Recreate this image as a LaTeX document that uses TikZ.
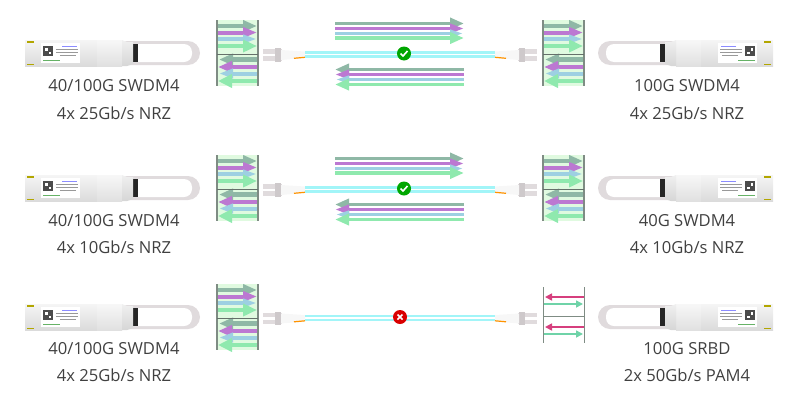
\documentclass[tikz,border=0pt]{standalone}
\usepackage{fontspec}
\setmainfont{Open Sans}
\usetikzlibrary{arrows.meta}
\definecolor{sigGray}{HTML}{8FB8A6}
\definecolor{sigPurple}{HTML}{BC78D2}
\definecolor{sigBlue}{HTML}{9DD0E2}
\definecolor{sigGreen}{HTML}{8FE9AE}
\definecolor{sigPink}{HTML}{D63F7E}
\definecolor{sigMint}{HTML}{6FD3A8}
\definecolor{muxBack}{HTML}{E0FAE0}
\definecolor{muxBar}{HTML}{7F8C84}
\definecolor{fiberCyan}{HTML}{A2F5F8}
\definecolor{shellGray}{HTML}{E0DBDD}
\tikzset{
  caption/.style={font=\fontsize{16.6}{19}\selectfont, text=black!75, inner sep=0pt},
  sig/.style n args={3}{draw=#1, line width=#2, -{Triangle[length=14pt,width=#3]}},
  pics/muxfull/.style={code={
    \fill [muxBack] (217,-33) rectangle (258,33);
    \draw [sig={sigGray}{4.5pt}{11pt}] (218,-27) -- (257,-27);
    \draw [sig={sigPurple}{4pt}{10pt}] (218,-20.5) -- (257,-20.5);
    \draw [sig={sigBlue}{4pt}{8pt}] (218,-14) -- (257,-14);
    \draw [sig={sigGreen}{4.5pt}{12pt}] (218,-7) -- (257,-7);
    \draw [sig={sigGray}{4.5pt}{11pt}] (257,6.5) -- (219,6.5);
    \draw [sig={sigPurple}{4pt}{11pt}] (257,14) -- (218,14);
    \draw [sig={sigBlue}{4pt}{9pt}] (257,20.5) -- (219,20.5);
    \draw [sig={sigGreen}{4.5pt}{13pt}] (257,28) -- (218,28);
    \draw [muxBar, line width=1.2pt] (217,-33) -- (217,33);
    \draw [muxBar, line width=1.2pt] (258,-33) -- (258,33);
    \draw [muxBar!80!black, line width=0.9pt] (217,1) -- (258,1);
  }},
  pics/muxsmall/.style={code={
    \draw [draw=sigPink, line width=1.6pt, -{Triangle[length=7pt,width=7pt]}] (584,-20) -- (545,-20);
    \draw [draw=sigMint, line width=1.6pt, -{Triangle[length=7pt,width=7pt]}] (544,-13) -- (583,-13);
    \draw [draw=sigPink, line width=1.6pt, -{Triangle[length=7pt,width=7pt]}] (584,10) -- (545,10);
    \draw [draw=sigMint, line width=1.6pt, -{Triangle[length=7pt,width=7pt]}] (544,17) -- (583,17);
    \draw [muxBar, line width=1pt] (543,-30) -- (543,26);
    \draw [muxBar, line width=1pt] (584,-30) -- (584,26);
    \draw [muxBar, line width=0.9pt] (543,-1) -- (584,-1);
  }},
  pics/beams/.style={code={
    \draw [sig={sigGray}{3.5pt}{11pt}] (335,-29.5) -- (464,-29.5);
    \draw [sig={sigPurple}{3.5pt}{9pt}] (335,-24.5) -- (464,-24.5);
    \draw [sig={sigBlue}{3.5pt}{7pt}] (335,-19.5) -- (464,-19.5);
    \draw [sig={sigGreen}{3.5pt}{11pt}] (335,-15) -- (464,-15);
    \draw [sig={sigGray}{3.5pt}{11pt}] (464,16.5) -- (335,16.5);
    \draw [sig={sigPurple}{3.5pt}{9pt}] (464,21.5) -- (335,21.5);
    \draw [sig={sigBlue}{3.5pt}{7pt}] (464,26.5) -- (335,26.5);
    \draw [sig={sigGreen}{3.5pt}{11pt}] (464,31.5) -- (335,31.5);
  }},
  pics/fiber/.style={code={
    \fill [shellGray] (263,-5.5) rectangle (282,-1);
    \fill [shellGray] (263,1.5) rectangle (282,6);
    \fill [shellGray!92!black] (275,-6.5) rectangle (281,7);
    \fill [black!3] (281,-4.5) -- (305,-3) -- (305,3.5) -- (281,5.5) -- cycle;
    \draw [draw=orange!85!yellow, line width=1.2pt] (294,3.8) -- (305,2.8);
    \fill [shellGray] (537,-5.5) rectangle (518,-1);
    \fill [shellGray] (537,1.5) rectangle (518,6);
    \fill [shellGray!92!black] (525,-6.5) rectangle (519,7);
    \fill [black!3] (519,-4.5) -- (495,-3) -- (495,3.5) -- (519,5.5) -- cycle;
    \draw [draw=orange!85!yellow, line width=1.2pt] (506,3.8) -- (495,2.8);
    \draw [draw=fiberCyan, line width=2.5pt] (305,-2) -- (495,-2);
    \draw [draw=fiberCyan, line width=2.5pt] (305,1.8) -- (495,1.8);
  }},
  pics/module/.style={code={
    \fill [shellGray, rounded corners=12pt] (115,-12) rectangle (200,12);
    \fill [white, rounded corners=8pt] (125,-9) rectangle (192,9);
    \fill [black!85] (133,-9) rectangle (138,9);
    \shade [top color=black!4, bottom color=black!14] (25,-13) rectangle (97,13);
    \shade [top color=black!3, bottom color=black!12] (97,-13) rectangle (122,13);
    \shade [top color=black!6, bottom color=black!16] (122,-13) -- (127,-11) -- (133,-11) -- (133,11) -- (127,13) -- (122,13) -- cycle;
    \fill [white] (41,-10) rectangle (80,10);
    \fill [black!70] (43,-7) rectangle (53,3);
    \fill [white] (45,-5) rectangle (47.5,-2.5);
    \fill [white] (48.5,-1.5) rectangle (51,1);
    \draw [blue!45, line width=0.9pt] (62,-7) -- (77,-7);
    \draw [black!40, line width=0.8pt] (56,-3.5) -- (78,-3.5);
    \draw [black!40, line width=0.8pt] (56,-0.5) -- (78,-0.5);
    \draw [black!40, line width=0.8pt] (60,2.5) -- (76,2.5);
    \draw [green!50!black!60, line width=0.8pt] (43,7) -- (60,7);
    \fill [orange!70!green] (27,-12) rectangle (34,-10.5);
    \fill [orange!70!green] (27,10.5) rectangle (34,12);
  }}
}
\begin{document}
\begin{tikzpicture}[x=1pt, y=-1pt]
\useasboundingbox (0,0) rectangle (800,402);
\pic at (0,53) {muxfull};
\pic at (326,53) {muxfull};
\pic at (0,53) {beams};
\pic at (0,54.5) {fiber};
\pic at (0,53) {module};
\pic [xscale=-1] at (798,53) {module};
\node [circle, fill=green!65!black, minimum size=14pt, inner sep=0pt] (okTop) at (404,53.5) {};
\draw [white, line width=1.6pt] (400.5,53.5) -- (403,56) -- (407.5,51);
\node [caption] (leftTopA) at (114,86) {40/100G SWDM4};
\node [caption] (leftTopB) at (114,113) {4x 25Gb/s NRZ};
\node [caption] (rightTopA) at (687,86) {100G SWDM4};
\node [caption] (rightTopB) at (687,113) {4x 25Gb/s NRZ};
\pic at (0,188) {muxfull};
\pic at (326,188) {muxfull};
\pic at (0,188) {beams};
\pic at (0,189.5) {fiber};
\pic at (0,188) {module};
\pic [xscale=-1] at (798,188) {module};
\node [circle, fill=green!65!black, minimum size=14pt, inner sep=0pt] (okMid) at (404,188.5) {};
\draw [white, line width=1.6pt] (400.5,188.5) -- (403,191) -- (407.5,186);
\node [caption] (leftMidA) at (114,221) {40/100G SWDM4};
\node [caption] (leftMidB) at (114,247) {4x 10Gb/s NRZ};
\node [caption] (rightMidA) at (687,221) {40G SWDM4};
\node [caption] (rightMidB) at (687,247) {4x 10Gb/s NRZ};
\pic at (0,317) {muxfull};
\pic at (0,317) {muxsmall};
\pic at (0,318) {fiber};
\pic at (0,317) {module};
\pic [xscale=-1] at (798,317) {module};
\node [circle, fill=red!85!black, minimum size=14pt, inner sep=0pt] (badBot) at (400,317) {};
\draw [white, line width=1.6pt] (397.5,314.5) -- (402.5,319.5);
\draw [white, line width=1.6pt] (397.5,319.5) -- (402.5,314.5);
\node [caption] (leftBotA) at (114,349) {40/100G SWDM4};
\node [caption] (leftBotB) at (114,375) {4x 25Gb/s NRZ};
\node [caption] (rightBotA) at (687,349) {100G SRBD};
\node [caption] (rightBotB) at (687,375) {2x 50Gb/s PAM4};
\end{tikzpicture}
\end{document}
